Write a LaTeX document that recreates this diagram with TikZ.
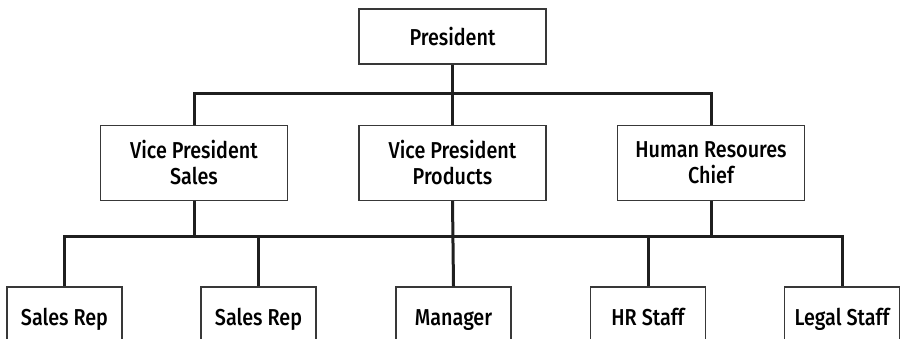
\documentclass[tikz,border=0pt]{standalone}
\usepackage{fontspec}
\setmainfont{Fira Sans}[UprightFont={* Medium},FakeStretch=0.86]

\begin{document}
\begin{tikzpicture}[x=1pt, y=-1pt,
                    main node/.style={draw=black!78,line width=1.2pt,align=center,inner sep=0pt,
                                      font=\fontsize{23}{26}\selectfont,minimum width=187pt},
                    top node/.style={main node,minimum height=55pt},
                    mid node/.style={main node,minimum height=75pt},
                    leaf node/.style={main node,minimum width=115pt,minimum height=61pt,
                                      text height=15pt,text depth=0pt},
                    link/.style={draw=black!88,line width=3pt}]

  \useasboundingbox (0,0) rectangle (901,339);

  \node[top node] (1) at (452.5,36.5) {President};
  \node[mid node] (2) at (194,163) {Vice President\\Sales};
  \node[mid node] (3) at (452.5,163) {Vice President\\Products};
  \node[mid node] (4) at (711,163) {Human Resoures\\Chief};
  \node[leaf node] (5) at (64.5,317.5) {Sales Rep};
  \node[leaf node] (6) at (258.5,317.5) {Sales Rep};
  \node[leaf node] (7) at (453.5,317.5) {Manager};
  \node[leaf node] (8) at (648,317.5) {HR Staff};
  \node[leaf node] (9) at (842,317.5) {Legal Staff};

  % the two bars
  \coordinate (a) at (0,94);
  \coordinate (b) at (0,236);

  \path[link] (2.north) |- (a -| 4.north) -- (4.north);
  \path[link] (1.south) -- (3.north);

  \path[link] (5.north) |- (b -| 9.north) -- (9.north);
  \path[link] (2.south) -- (2.south |- b);
  \path[link] (3.south) -- (7.north);
  \path[link] (4.south) -- (4.south |- b);
  \path[link] (6.north) -- (6.north |- b);
  \path[link] (8.north) -- (8.north |- b);

\end{tikzpicture}
\end{document}
